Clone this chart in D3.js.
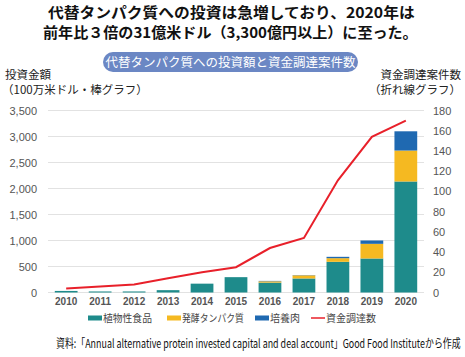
<!DOCTYPE html>
<html><head><meta charset="utf-8">
<script src="https://cdn.jsdelivr.net/npm/d3@7"></script>
<style>
html,body{margin:0;padding:0;background:#fff;}
svg{display:block;font-family:"Noto Sans CJK JP","Noto Sans",sans-serif;}
</style></head>
<body><svg id="c" width="465" height="357"></svg>
<script>
const years = ["2010","2011","2012","2013","2014","2015","2016","2017","2018","2019","2020"];
const plantBased = [30, 20, 20, 45, 170, 295, 190, 270, 590, 654, 2135];
const fermentation = [0, 0, 0, 0, 0, 0, 25, 60, 70, 282, 595];
const cultivated = [0, 0, 0, 0, 0, 0, 8, 5, 26, 64, 370];
const deals = [4, 6, 8, 14, 20, 25, 44, 54, 111, 154, 170];
const leftTicks = [0, 500, 1000, 1500, 2000, 2500, 3000, 3500];
const rightTicks = [0, 20, 40, 60, 80, 100, 120, 140, 160, 180];
const seriesNames = ["植物性食品", "発酵タンパク質", "培養肉", "資金調達数"];
const colors = ["#1e8b8b", "#f5b921", "#1f69b1", "#e8202a"];

const svg = d3.select("#c");
const x = d3.scaleBand().domain(years).range([48, 424]).paddingInner(0.33).paddingOuter(0.2);
const yL = d3.scaleLinear().domain([0, 3500]).range([292.5, 110.5]);
const yR = d3.scaleLinear().domain([0, 180]).range([292.5, 110.5]);

// helper: draw text at (x0,y0) horizontally scaled to given width
function fitText(parent, x0, y0, w, str, attrs) {
  const g = parent.append("g");
  const t = g.append("text").attr("x", 0).attr("y", 0).text(str);
  Object.entries(attrs).forEach(([k, v]) => t.attr(k, v));
  const nat = t.node().getComputedTextLength();
  g.attr("transform", `translate(${x0},${y0}) scale(${w / nat},1)`);
  return t;
}

// title
fitText(svg, 48, 18, 367, "代替タンパク質への投資は急増しており、2020年は", {"font-size": 14.5, "font-weight": "bold", "fill": "#111"});
fitText(svg, 43, 38, 375, "前年比３倍の31億米ドル（3,300億円以上）に至った。", {"font-size": 14.5, "font-weight": "bold", "fill": "#111"});

// pill
svg.append("rect").attr("x", 103).attr("y", 52).attr("width", 255).attr("height", 20).attr("rx", 10).attr("fill", "#6b87c4");
svg.append("text").attr("x", 230.5).attr("y", 66.5).attr("text-anchor", "middle").attr("fill", "#fff").attr("font-size", 12.5).text("代替タンパク質への投資額と資金調達案件数");

// axis titles
svg.append("text").attr("x", 5).attr("y", 79).attr("font-size", 11.5).attr("fill", "#222").text("投資金額");
svg.append("text").attr("x", 2).attr("y", 94).attr("font-size", 11.5).attr("fill", "#222").text("（100万米ドル・棒グラフ）");
svg.append("text").attr("x", 461).attr("y", 79).attr("font-size", 11.5).attr("fill", "#222").attr("text-anchor", "end").text("資金調達案件数");
svg.append("text").attr("x", 461).attr("y", 94).attr("font-size", 11.5).attr("fill", "#222").attr("text-anchor", "end").text("（折れ線グラフ）");

// gridlines
svg.append("g").selectAll("line").data(leftTicks).join("line")
  .attr("x1", 48).attr("x2", 424).attr("y1", d => yL(d)).attr("y2", d => yL(d))
  .attr("stroke", "#e2e2e2").attr("stroke-width", 1);

// left axis
const la = svg.append("g").attr("transform", "translate(40,0)")
  .call(d3.axisLeft(yL).tickValues(leftTicks).tickSize(0).tickPadding(3).tickFormat(d3.format(",")));
la.select(".domain").remove();
la.selectAll("text").attr("font-size", 11).attr("fill", "#555").attr("font-family", "Liberation Sans, Arial, sans-serif");

// right axis
const ra = svg.append("g").attr("transform", "translate(430,0)")
  .call(d3.axisRight(yR).tickValues(rightTicks).tickSize(0).tickPadding(3));
ra.select(".domain").remove();
ra.selectAll("text").attr("font-size", 11).attr("fill", "#555").attr("font-family", "Liberation Sans, Arial, sans-serif");

// bars
const data = years.map((y, i) => ({year: y, plant: plantBased[i], ferm: fermentation[i], cult: cultivated[i]}));
const stack = d3.stack().keys(["plant", "ferm", "cult"])(data);
svg.append("g").selectAll("g").data(stack).join("g").attr("fill", (d, i) => colors[i])
  .selectAll("rect").data(d => d).join("rect")
  .attr("x", d => x(d.data.year)).attr("width", x.bandwidth())
  .attr("y", d => yL(d[1])).attr("height", d => Math.max(0, yL(d[0]) - yL(d[1])));

// x labels
const xa = svg.append("g").attr("transform", "translate(0,294)")
  .call(d3.axisBottom(x).tickSize(0).tickPadding(4));
xa.select(".domain").remove();
xa.selectAll("text").attr("font-size", 10).attr("font-weight", "bold").attr("fill", "#555").attr("font-family", "Liberation Sans, Arial, sans-serif");

// line
const line = d3.line().x((d, i) => x(years[i]) + x.bandwidth() / 2).y(d => yR(d));
svg.append("path").datum(deals).attr("d", line).attr("fill", "none").attr("stroke", colors[3]).attr("stroke-width", 2);

// legend
const legX = [88, 167, 255, 311];
const legW = [49, 62, 30, 50];
const lg = svg.append("g");
seriesNames.forEach((n, i) => {
  if (i < 3) {
    lg.append("rect").attr("x", legX[i]).attr("y", 315.5).attr("width", 14).attr("height", 5).attr("fill", colors[i]);
  } else {
    lg.append("line").attr("x1", legX[i]).attr("x2", legX[i] + 14).attr("y1", 318).attr("y2", 318).attr("stroke", colors[i]).attr("stroke-width", 1.5);
  }
  fitText(lg, legX[i] + 15, 321.5, legW[i], n, {"font-size": 10, "fill": "#444"});
});

// source
fitText(svg, 56, 348, 405, "資料:「Annual alternative protein invested capital and deal account」Good Food Instituteから作成", {"font-size": 12, "fill": "#111"});
</script></body></html>
